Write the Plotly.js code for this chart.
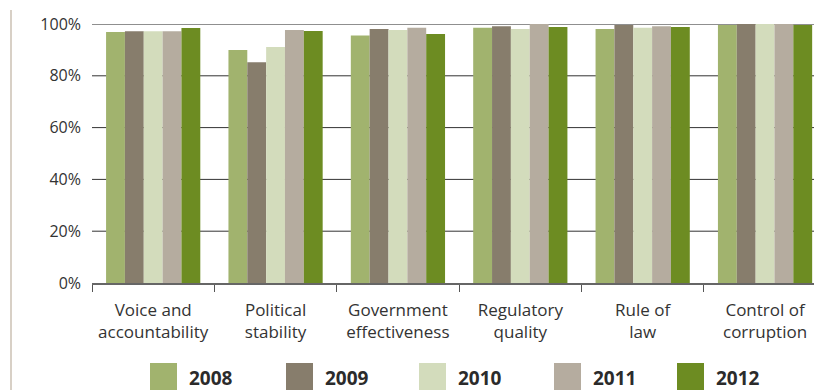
<!DOCTYPE html>
<html>
<head>
<meta charset="utf-8">
<script src="https://cdn.plot.ly/plotly-3.0.1.min.js"></script>
<style>
html,body{margin:0;padding:0;background:#fff;}
#chart{width:814px;height:390px;}
</style>
</head>
<body>
<div id="chart"></div>
<script>
// ---- data ----
const categories = ["Voice and<br>accountability", "Political<br>stability", "Government<br>effectiveness", "Regulatory<br>quality", "Rule of<br>law", "Control of<br>corruption"];
const years = ["2008", "2009", "2010", "2011", "2012"];
const v2008 = [96.9, 90.0, 95.6, 98.6, 98.1, 99.6];
const v2009 = [97.2, 85.2, 98.1, 99.1, 99.6, 100];
const v2010 = [97.2, 91.1, 97.7, 98.1, 98.6, 100];
const v2011 = [97.2, 97.7, 98.6, 100, 99.1, 100];
const v2012 = [98.5, 97.3, 96.1, 98.8, 98.8, 99.6];
const yTicks = [0, 20, 40, 60, 80, 100];
const yTickLabels = ["0%", "20%", "40%", "60%", "80%", "100%"];

// ---- style ----
const colors = ["#a1b36e", "#877d6c", "#d3dcbc", "#b5ac9f", "#6d8c22"];
const series = [v2008, v2009, v2010, v2011, v2012];
const legendX = [150, 286, 419, 554, 677];
const W = 814, H = 390;
const fontFam = "'Open Sans', 'Noto Sans', sans-serif";

const traces = series.map((vals, i) => ({
  type: 'bar',
  name: years[i],
  x: categories,
  y: vals,
  marker: {color: colors[i], line: {width: 0}},
  hoverinfo: 'y'
}));

const shapes = [
  // left decorative bar
  {type: 'rect', xref: 'paper', yref: 'paper', x0: -82/722, x1: -80/722, y0: -107/259, y1: (283-10)/259,
   fillcolor: '#d8d0c6', line: {width: 0}, layer: 'below'},
  // gridlines
  ...[20, 40, 60, 80].map(v => ({type: 'line', xref: 'paper', yref: 'y', x0: 0, x1: 1, y0: v, y1: v,
    line: {color: '#333333', width: 1}, layer: 'below'})),
  {type: 'line', xref: 'paper', yref: 'y', x0: 0, x1: 1, y0: 100, y1: 100,
    line: {color: '#8f8f8f', width: 2}, layer: 'below'}
];
const annotations = [];
years.forEach((yr, i) => {
  const px = legendX[i];
  shapes.push({type: 'rect', xref: 'paper', yref: 'paper',
    x0: (px - 92) / 722, x1: (px + 27 - 92) / 722,
    y0: (283 - 395) / 259, y1: (283 - 363) / 259,
    fillcolor: colors[i], line: {width: 0}});
  annotations.push({xref: 'paper', yref: 'paper', x: (px + 37 - 92) / 722, y: (283 - 378) / 259,
    xanchor: 'left', yanchor: 'middle', showarrow: false, text: '<b>' + yr + '</b>',
    font: {family: fontFam, size: 19, color: '#2b2b2b'}});
});

const layout = {
  width: W, height: H,
  margin: {l: 92, r: 0, t: 24, b: 107, pad: 0},
  paper_bgcolor: '#fff', plot_bgcolor: 'rgba(0,0,0,0)',
  barmode: 'group', bargap: 0.23, bargroupgap: 0,
  showlegend: false,
  font: {family: fontFam, size: 17, color: '#333333'},
  xaxis: {
    type: 'category', range: [-0.5, 5.4], tickson: 'boundaries',
    ticks: 'outside', ticklen: 7, tickcolor: '#555', tickwidth: 1,
    showline: true, linecolor: '#666', linewidth: 1.5,
    showgrid: false, zeroline: false, fixedrange: true,
    ticklabelstandoff: 11,
    tickfont: {family: fontFam, size: 17, color: '#333333'}
  },
  yaxis: {
    range: [0, 100], tickvals: yTicks, ticktext: yTickLabels,
    showgrid: false, zeroline: false, showline: false, ticks: '',
    ticklabelstandoff: 10, fixedrange: true,
    tickfont: {family: fontFam, size: 16, color: '#333333'}
  },
  shapes: shapes,
  annotations: annotations
};

Plotly.newPlot('chart', traces, layout, {displayModeBar: false, staticPlot: true});
</script>
</body>
</html>
